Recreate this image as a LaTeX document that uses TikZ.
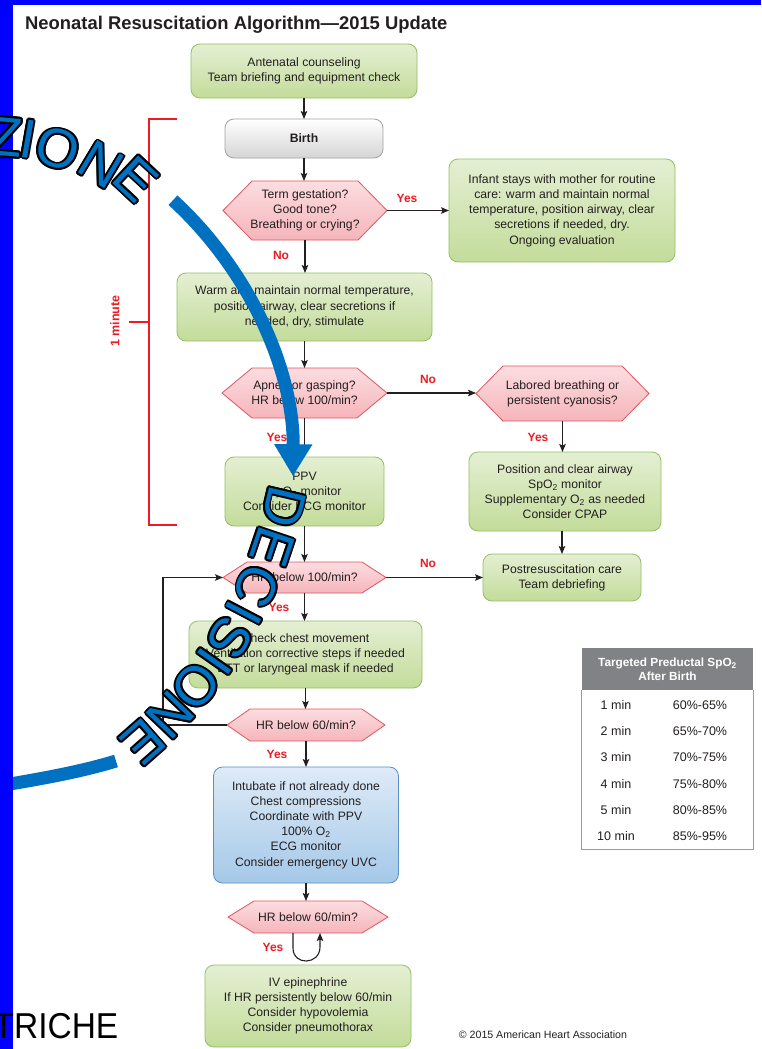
\documentclass[tikz,border=0pt]{standalone}
\usepackage{fontspec}
\setmainfont{Liberation Sans}
\usetikzlibrary{arrows.meta,calc}

\definecolor{ink}{HTML}{231F20}
\definecolor{gTop}{HTML}{E4EFD3}
\definecolor{gBot}{HTML}{C3DC9A}
\definecolor{gLine}{HTML}{94BF63}
\definecolor{hTop}{HTML}{FCDDE0}
\definecolor{hBot}{HTML}{F5B5BB}
\definecolor{hLine}{HTML}{E0565F}
\definecolor{wTop}{HTML}{FFFFFF}
\definecolor{wBot}{HTML}{D5D5D5}
\definecolor{wLine}{HTML}{A3A3A3}
\definecolor{bTop}{HTML}{DEEBF7}
\definecolor{bBot}{HTML}{A5C8E8}
\definecolor{bLine}{HTML}{5B8FC8}
\definecolor{alert}{HTML}{ED1C24}
\definecolor{tabgray}{HTML}{808285}
\definecolor{ringblue}{HTML}{0070C0}
\definecolor{frameblue}{HTML}{0000FF}

\newcommand\flowfont{\fontsize{12.2}{15.2}\selectfont}

% hexagonal decision: name, cx, cy, width, height, corner inset, text
\newcommand\hexnode[7]{%
  \shade[hexshade] ({#2-#4/2},#3) -- ({#2-#4/2+#6},{#3-#5/2}) -- ({#2+#4/2-#6},{#3-#5/2})
     -- ({#2+#4/2},#3) -- ({#2+#4/2-#6},{#3+#5/2}) -- ({#2-#4/2+#6},{#3+#5/2}) -- cycle;
  \node[hextext, minimum width=#4, minimum height=#5] (#1) at (#2,#3) {#7};}

% outlined blue glyph: position, rotation, glyph
\newcommand\ringglyph[3]{%
  \foreach \k in {0,30,...,330}{\node[glyph, text=black, rotate=#2] at ($#1+(\k:1.9)$) {#3};}
  \node[glyph, text=ringblue, rotate=#2] at #1 {#3};}

\begin{document}
\begin{tikzpicture}[x=1pt,y=-1pt,
  box/.style={rectangle, rounded corners=9pt, line width=0.8pt, align=center,
              font=\flowfont, text=ink, inner sep=2pt, outer sep=0pt},
  gbox/.style={box, draw=gLine, top color=gTop, bottom color=gBot},
  wbox/.style={box, draw=wLine, top color=wTop, bottom color=wBot},
  bbox/.style={box, draw=bLine, top color=bTop, bottom color=bBot},
  hexshade/.style={draw=hLine, line width=0.8pt, top color=hTop, bottom color=hBot},
  hextext/.style={rectangle, align=center, font=\flowfont, text=ink, inner sep=0pt, outer sep=0pt},
  arr/.style={draw=ink, line width=1.1pt, -{Stealth[length=8pt,width=6.5pt,inset=1.5pt]}},
  yn/.style={font=\bfseries\fontsize{12}{14}\selectfont, text=alert, inner sep=0pt},
  bracket/.style={draw=alert, line width=1.3pt},
  tabcell/.style={font=\fontsize{12.5}{15}\selectfont, text=ink, inner sep=0pt},
  glyph/.style={font=\fontsize{55}{58}\selectfont, inner sep=0pt, outer sep=0pt}]

\useasboundingbox (0,0) rectangle (761,1049);
\fill[white] (0,0) rectangle (761,1049);

% title
\node[anchor=base west, font=\bfseries\fontsize{18.4}{20}\selectfont, text=ink, inner sep=0pt]
  (title) at (25,30) {Neonatal Resuscitation Algorithm—2015 Update};

% the "1 minute" bracket
\draw[bracket] (177,119) -- (149,119) -- (149,525) -- (177,525);
\draw[bracket] (129,322) -- (149,322);
\node[font=\bfseries\fontsize{12.5}{14}\selectfont, text=alert, rotate=90, inner sep=0pt]
  (oneminute) at (115,321) {1 minute};

% boxes
\node[gbox, minimum width=226, minimum height=54] (n1) at (304,71)
  {Antenatal counseling\\Team briefing and equipment check};
\node[wbox, minimum width=158, minimum height=39, font=\bfseries\flowfont] (n2) at (304,138.5) {Birth};
\hexnode{q1}{305}{210.5}{164}{59}{29}{Term gestation?\\Good tone?\\Breathing or crying?}
\node[gbox, minimum width=226, minimum height=103] (n3) at (562,210.5)
  {Infant stays with mother for routine\\care: warm and maintain normal\\temperature, position airway, clear\\secretions if needed, dry.\\Ongoing evaluation};
\node[gbox, minimum width=255, minimum height=68] (n4) at (304.5,307)
  {Warm and maintain normal temperature,\\position airway, clear secretions if\\needed, dry, stimulate};
\hexnode{q2}{304.5}{393}{165}{50}{30}{Apnea or gasping?\\HR below 100/min?}
\hexnode{q3}{562.5}{393.5}{173}{55}{27}{Labored breathing or\\persistent cyanosis?}
\node[gbox, minimum width=159, minimum height=69] (n5) at (304.5,491.5)
  {PPV\\SpO\textsubscript{2} monitor\\Consider ECG monitor};
\node[gbox, minimum width=192, minimum height=79] (n6) at (565,491.5)
  {Position and clear airway\\SpO\textsubscript{2} monitor\\Supplementary O\textsubscript{2} as needed\\Consider CPAP};
\node[gbox, minimum width=158, minimum height=47] (n7) at (562,577.5)
  {Postresuscitation care\\Team debriefing};
\hexnode{q4}{304.5}{577.5}{163}{31}{24}{HR below 100/min?}
\node[gbox, minimum width=233, minimum height=67] (n8) at (305.5,654.5)
  {Check chest movement\\Ventilation corrective steps if needed\\ETT or laryngeal mask if needed};
\hexnode{q5}{306}{725}{158}{32}{23}{HR below 60/min?}
\node[bbox, minimum width=185, minimum height=116] (n9) at (306,825)
  {Intubate if not already done\\Chest compressions\\Coordinate with PPV\\100\% O\textsubscript{2}\\ECG monitor\\Consider emergency UVC};
\hexnode{q6}{308}{917}{160}{32}{26}{HR below 60/min?}
\node[gbox, minimum width=206, minimum height=82] (n10) at (308,1006)
  {IV epinephrine\\If HR persistently below 60/min\\Consider hypovolemia\\Consider pneumothorax};

% connectors
\coordinate (loopx) at (163,0);
\draw[arr] (n1.south) -- (n1.south |- n2.north);
\draw[arr] (n2.south) -- (n2.south |- q1.north);
\draw[arr] (q1.east) -- (q1.east -| n3.west);
\draw[arr] (q1.south) -- (q1.south |- n4.north);
\draw[arr] (n4.south) -- (n4.south |- q2.north);
\draw[arr] (q2.east) -- (q2.east -| q3.west);
\draw[arr] (q2.south) -- (q2.south |- n5.north);
\draw[arr] (q3.south) -- (q3.south |- n6.north);
\draw[arr] (n7.north |- n6.south) -- (n7.north);
\draw[arr] (n5.south) -- (n5.south |- q4.north);
\draw[arr] (q4.east) -- (q4.east -| n7.west);
\draw[arr] (q4.south) -- (q4.south |- n8.north);
\draw[arr] (n8.south) -- (n8.south |- q5.north);
\draw[arr] (q5.south) -- (q5.south |- n9.north);
\draw[arr] (q5.west) -- (q5.west -| loopx) -- (q4.west -| loopx) -- (q4.west);
\draw[arr] (n9.south) -- (n9.south |- q6.north);
\coordinate (la) at ([xshift=-15pt]q6.south);
\coordinate (lb) at ([xshift=12pt]q6.south);
\draw[arr] (la) -- ++(0,15) .. controls +(0,18) and +(0,18) .. ($(lb)+(0,14)$) -- (lb);

% branch labels
\node[yn] (l1) at (281,255) {No};
\node[yn] (l2) at (407,198) {Yes};
\node[yn] (l3) at (428,379) {No};
\node[yn] (l4) at (277,437) {Yes};
\node[yn] (l5) at (538,437) {Yes};
\node[yn] (l6) at (428,563) {No};
\node[yn] (l7) at (279,607) {Yes};
\node[yn] (l8) at (277,754) {Yes};
\node[yn] (l9) at (273,947) {Yes};

% target saturation table
\node[rectangle, fill=tabgray, minimum width=171, minimum height=42, inner sep=0pt, align=center,
      font=\bfseries\fontsize{11.8}{14}\selectfont, text=white] (th) at (667.5,669)
  {Targeted Preductal SpO\textsubscript{2}\\After Birth};
\draw[draw=tabgray!80, line width=0.8pt] (th.south west) -- ++(0,159) -| (th.south east);
\node[tabcell] (tm1) at (616,705) {1 min};   \node[tabcell] (tp1) at (700,705) {60\%-65\%};
\node[tabcell] (tm2) at (616,731) {2 min};   \node[tabcell] (tp2) at (700,731) {65\%-70\%};
\node[tabcell] (tm3) at (616,757) {3 min};   \node[tabcell] (tp3) at (700,757) {70\%-75\%};
\node[tabcell] (tm4) at (616,784) {4 min};   \node[tabcell] (tp4) at (700,784) {75\%-80\%};
\node[tabcell] (tm5) at (616,810) {5 min};   \node[tabcell] (tp5) at (700,810) {80\%-85\%};
\node[tabcell] (tm6) at (616,836) {10 min};  \node[tabcell] (tp6) at (700,836) {85\%-95\%};

\node[font=\fontsize{10.6}{12}\selectfont, text=ink, inner sep=0pt] (copy) at (543,1035)
  {\textcopyright{} 2015 American Heart Association};

% blue circular arrow and arc segment
\coordinate (rc) at (-77,473);
\draw[ringblue, line width=13pt, -{Triangle[length=32pt,width=36pt]}]
  ($(rc)+(-47.5:370)$) arc[start angle=-47.5, end angle=0.5, radius=370];
\draw[ringblue, line width=13pt] (-2,786) .. controls (40,779) and (80,772) .. (116,761);

% slide frame
\fill[frameblue] (0,0) rectangle (12.5,1049);
\fill[frameblue] (0,0) rectangle (761,5.5);

% trailing word at the bottom left
\node[anchor=base east, font=\fontsize{36}{40}\selectfont, text=black, xscale=0.93, inner sep=0pt]
  (triche) at (118.5,1038) {TRICHE};

% ZIONE along the upper arc
\ringglyph{(6,137)}{-5}{Z}
\ringglyph{(28,139)}{-10}{I}
\ringglyph{(58,149)}{-19}{O}
\ringglyph{(101,165)}{-31}{N}
\ringglyph{(136,179)}{-43}{E}

% DECISIONE along the right arc
\coordinate (dc) at (-156,403);
\coordinate (d1) at ($(dc)+(13.3:452)$);
\coordinate (d2) at ($(dc)+(18.6:452)$);
\coordinate (d3) at ($(dc)+(23.9:452)$);
\coordinate (d4) at ($(dc)+(27.7:452)$);
\coordinate (d5) at ($(dc)+(31.3:452)$);
\coordinate (d6) at ($(dc)+(34.9:452)$);
\coordinate (d7) at ($(dc)+(38.8:452)$);
\coordinate (d8) at ($(dc)+(43.7:452)$);
\coordinate (d9) at ($(dc)+(48.6:452)$);
\ringglyph{(d1)}{-103.3}{D}
\ringglyph{(d2)}{-108.6}{E}
\ringglyph{(d3)}{-113.9}{C}
\ringglyph{(d4)}{-117.7}{I}
\ringglyph{(d5)}{-121.3}{S}
\ringglyph{(d6)}{-124.9}{I}
\ringglyph{(d7)}{-128.8}{O}
\ringglyph{(d8)}{-133.7}{N}
\ringglyph{(d9)}{-138.6}{E}

\end{tikzpicture}
\end{document}
